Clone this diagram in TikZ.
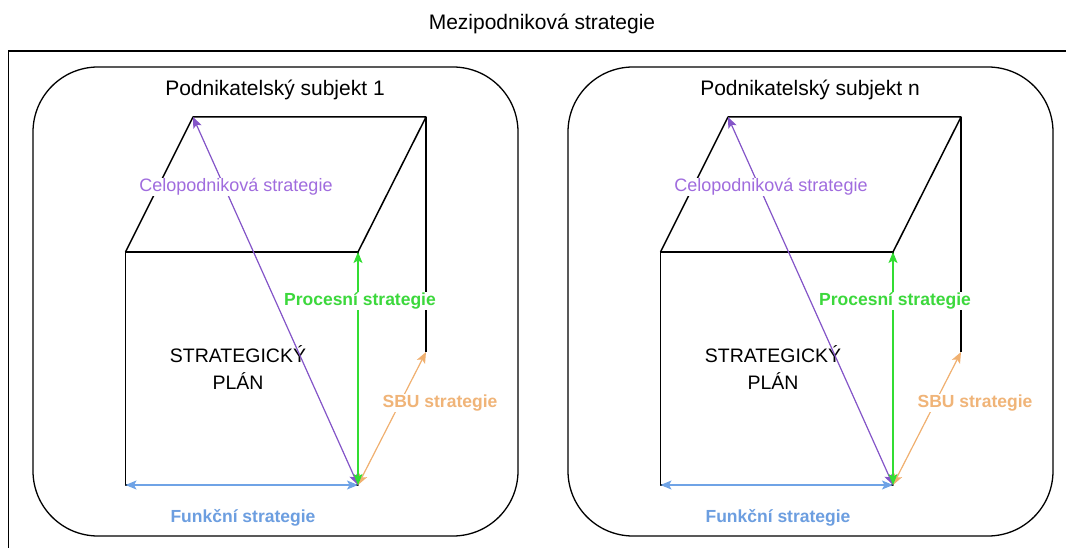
\documentclass[tikz,border=0pt]{standalone}
\usepackage{fontspec}
\setmainfont{Liberation Sans}
\usetikzlibrary{arrows.meta}
\definecolor{celoline}{HTML}{8455C8}
\definecolor{celotext}{HTML}{A06CDE}
\definecolor{procline}{HTML}{33DD33}
\definecolor{proctext}{HTML}{3CD83C}
\definecolor{sbuline}{HTML}{F0B070}
\definecolor{sbutext}{HTML}{F0B478}
\definecolor{funkline}{HTML}{6FA3E6}
\definecolor{funktext}{HTML}{6C9EE0}
\begin{document}
\begin{tikzpicture}[x=1pt,y=-1pt,
  frame/.style={draw=black, line width=1.3pt},
  cubeedge/.style={draw=black, line width=1.5pt, line join=round},
  vec/.style={line width=1.2pt,
    {Stealth[length=11pt,width=9pt,inset=2.5pt]}-{Stealth[length=11pt,width=9pt,inset=2.5pt]}},
  heading/.style={font=\fontsize{21}{25}\selectfont, inner sep=1pt},
  plan/.style={font=\fontsize{19.5}{27}\selectfont, align=center, inner sep=1pt},
  lbl/.style={fill=white, inner sep=1pt, font=\fontsize{18}{22}\selectfont},
  blbl/.style={fill=white, inner sep=1pt, font=\fontsize{17.5}{21}\selectfont\bfseries}
]
\useasboundingbox (0,0) rectangle (1066,548);

% outer frame of the inter-company level (runs past the page on the right and bottom)
\coordinate (frameTR) at (1090,51);
\coordinate (frameTL) at (8.5,51);
\coordinate (frameBL) at (8.5,570);
\draw[frame] (frameTR) -- (frameTL) -- (frameBL);
\node[heading] (title) at (542,24) {Mezipodniková strategie};

\foreach \dx/\k/\name in {0/a/1, 535/b/n} {
  \begin{scope}[xshift=\dx]
    % business unit panel
    \coordinate (panelTL\k) at (33,67);
    \coordinate (panelBR\k) at (518,536);
    \draw[frame, rounded corners=65] (panelTL\k) rectangle (panelBR\k);
    \node[heading] (sub\k) at (275,90) {Podnikatelský subjekt \name};

    % cube corners
    \coordinate (ftl\k) at (125.5,252);
    \coordinate (ftr\k) at (358,252);
    \coordinate (fbl\k) at (125.5,485);
    \coordinate (fbr\k) at (358,485);
    \coordinate (btl\k) at (193,117);
    \coordinate (btr\k) at (426,117);
    \coordinate (bbr\k) at (426,352);

    % visible cube edges
    \draw[cubeedge] (fbl\k) -- (ftl\k) -- (ftr\k) -- (fbr\k) -- cycle;
    \draw[cubeedge] (ftl\k) -- (btl\k) -- (btr\k) -- (ftr\k);
    \draw[cubeedge] (btr\k) -- (bbr\k);

    \node[plan] (plan\k) at (238,368) {STRATEGICKÝ\\PLÁN};

    % strategy vectors from the common origin corner
    \draw[vec, draw=funkline, fill=funkline] (fbl\k) -- (fbr\k);
    \draw[vec, draw=sbuline, fill=sbuline] (fbr\k) -- (bbr\k);
    \draw[vec, draw=celoline, fill=celoline] (fbr\k) -- (btl\k);
    \draw[vec, draw=procline, fill=procline] (fbr\k) -- (ftr\k);

    % vector labels
    \node[lbl, text=celotext] (celo\k) at (236,187) {Celopodniková strategie};
    \node[blbl, text=proctext] (proc\k) at (360,301) {Procesní strategie};
    \node[blbl, text=sbutext] (sbu\k) at (440,403) {SBU strategie};
    \node[blbl, text=funktext] (funk\k) at (243,518) {Funkční strategie};
  \end{scope}
}
\end{tikzpicture}
\end{document}
